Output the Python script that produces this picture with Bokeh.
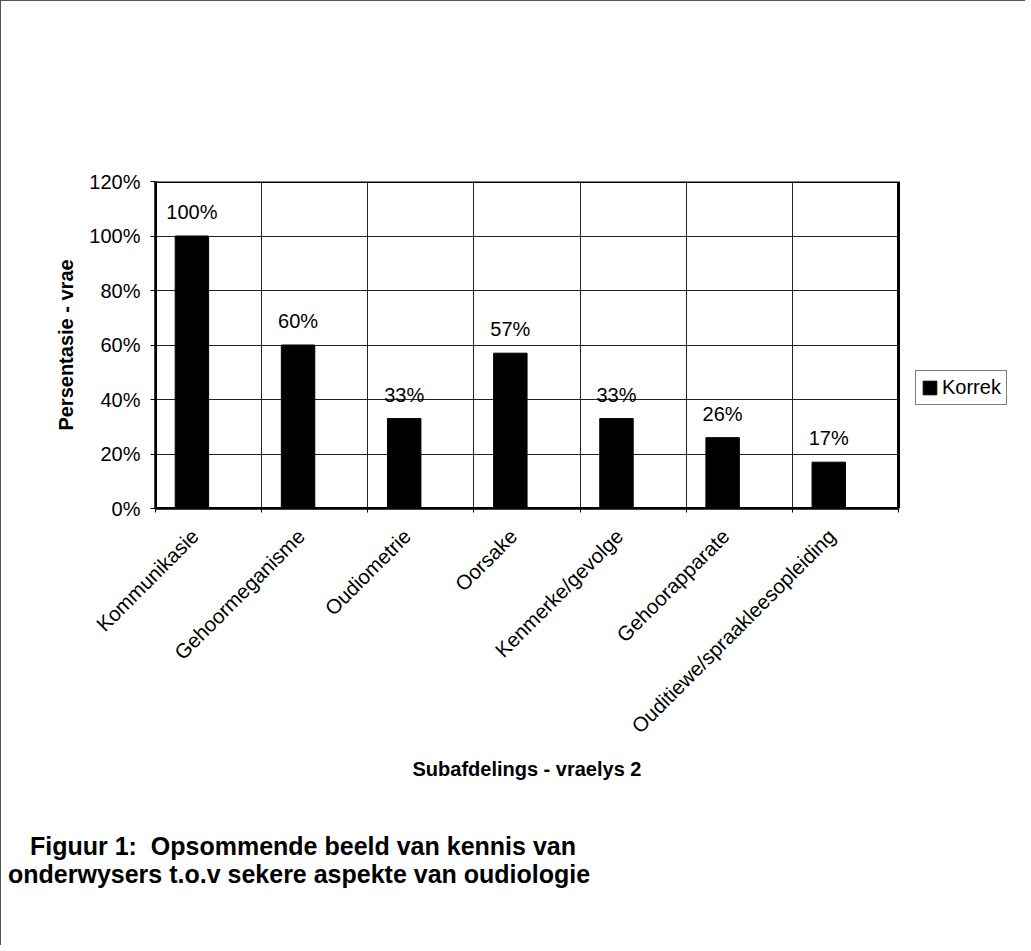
import math
from bokeh.plotting import figure
from bokeh.layouts import column
from bokeh.models import (Range1d, FixedTicker, NumeralTickFormatter, ColumnDataSource,
                          LabelSet, Legend, LegendItem, CustomJSTickFormatter, Div, Title)
from bokeh.core.properties import value
from bokeh.embed import file_html
from bokeh.resources import INLINE

# ---------------- data ----------------
categories = ["Kommunikasie", "Gehoormeganisme", "Oudiometrie", "Oorsake",
              "Kenmerke/gevolge", "Gehoorapparate", "Ouditiewe/spraakleesopleiding"]
korrek = [1.00, 0.60, 0.33, 0.57, 0.33, 0.26, 0.17]
korrek_labels = ["100%", "60%", "33%", "57%", "33%", "26%", "17%"]
y_ticks = [0.0, 0.2, 0.4, 0.6, 0.8, 1.0, 1.2]
series_name = "Korrek"
x_title = "Subafdelings - vraelys 2"
y_title = "Persentasie - vrae"
caption_1 = "Figuur 1:&nbsp; Opsommende beeld van kennis van"
caption_2 = "onderwysers t.o.v sekere aspekte van oudiologie"

# ---------------- layout ----------------
FONT = "Liberation Sans"
n = len(categories)
Y_MAX = 1.2
W, H = 1014, 800
BORDER_L, BORDER_R = 154, 4
CHART_W = 743                       # pixel width of the 7 category slots
FRAME_W = W - BORDER_L - BORDER_R   # frame also hosts the legend on the right
X_MAX = n * FRAME_W / CHART_W
X_TITLE_W = 229                     # approx. rendered width of the x title

centers = [i + 0.5 for i in range(n)]
bar_x = [c - 0.157 for c in centers]      # first of two series slots (second empty)
label_ticks = [c - 0.13 for c in centers]  # where rotated category labels anchor

src = ColumnDataSource(dict(x=bar_x, top=korrek, label=korrek_labels))

p = figure(width=W, height=H, x_range=Range1d(0, X_MAX), y_range=Range1d(0, Y_MAX),
           output_backend="svg", toolbar_location=None,
           min_border_left=BORDER_L, min_border_right=BORDER_R,
           min_border_top=180, min_border_bottom=293)
p.outline_line_color = None
p.background_fill_color = "white"
p.border_fill_color = "white"

# grid (limited to the chart box)
p.xgrid.ticker = FixedTicker(ticks=list(range(1, n)))
p.xgrid.grid_line_color = "#222222"
p.xgrid.grid_line_width = 1
p.ygrid.grid_line_color = "#222222"
p.ygrid.grid_line_width = 1
p.ygrid.cross_bounds = (0, n)

bars = p.vbar(x="x", top="top", width=0.315, source=src,
              fill_color="black", line_color="black")

# chart box outline
p.quad(left=[0], right=[n], bottom=[0], top=[Y_MAX], fill_color=None,
       line_color="black", line_width=3)

# y axis
p.yaxis.ticker = FixedTicker(ticks=y_ticks)
p.yaxis.formatter = NumeralTickFormatter(format="0%")
p.yaxis.major_tick_in = 0
p.yaxis.major_tick_out = 5
p.yaxis.minor_tick_out = 0
p.yaxis.minor_tick_in = 0
p.yaxis.major_label_standoff = 10
p.yaxis.major_label_text_font = FONT
p.yaxis.major_label_text_font_size = "20px"
p.yaxis.major_label_text_color = "black"
p.yaxis.axis_line_width = 2.5
p.yaxis.axis_label = y_title
p.yaxis.axis_label_text_font = FONT
p.yaxis.axis_label_text_font_style = "bold"
p.yaxis.axis_label_text_font_size = "20px"
p.yaxis.axis_label_text_color = "black"
p.yaxis.axis_label_standoff = 9

# x axis
p.xaxis.bounds = (0, n)
p.xaxis.ticker = FixedTicker(ticks=label_ticks, minor_ticks=list(range(n + 1)))
p.xaxis.formatter = CustomJSTickFormatter(args=dict(cats=categories),
                                          code="return cats[Math.floor(tick)] || '';")
p.xaxis.major_tick_in = 0
p.xaxis.major_tick_out = 0
p.xaxis.minor_tick_in = 0
p.xaxis.minor_tick_out = 4
p.xaxis.major_label_orientation = math.pi / 4
p.xaxis.major_label_standoff = 20
p.xaxis.major_label_text_font = FONT
p.xaxis.major_label_text_font_size = "20.5px"
p.xaxis.major_label_text_color = "black"
p.xaxis.axis_line_width = 2.5

# x-axis title, centred under the chart box (not under the legend)
x_label = Title(text=x_title, align="left",
                offset=(CHART_W - X_TITLE_W) / 2,
                text_font=FONT, text_font_style="bold", text_font_size="20px",
                text_color="black", standoff=14)
p.add_layout(x_label, "below")

# data labels
labels = LabelSet(x="x", y="top", text="label", source=src, text_align="center",
                  text_baseline="alphabetic", y_offset=17,
                  text_font=value(FONT), text_font_size=value("20px"), text_color="black")
p.add_layout(labels)

# legend (to the right of the chart box)
legend = Legend(items=[LegendItem(label=series_name, renderers=[bars])],
                location=(CHART_W + 17, 103), orientation="vertical",
                border_line_color="black", border_line_width=1,
                background_fill_color="white", background_fill_alpha=1,
                label_text_font=FONT, label_text_font_size="20px",
                label_text_color="black",
                glyph_width=17, glyph_height=17, label_standoff=4,
                padding=5, margin=0, spacing=0)
p.add_layout(legend)

# caption (below chart)
caption_html = (
    f'<div style="font-family:\'{FONT}\';font-weight:bold;font-size:25px;'
    f'line-height:28px;color:black;padding-top:26px;">'
    f'<div style="padding-left:24px;white-space:nowrap;">{caption_1}</div>'
    f'<div style="padding-left:2px;white-space:nowrap;">{caption_2}</div>'
    f'</div>'
)
cap = Div(text=caption_html, width=W, height=134)

layout = column(p, cap, spacing=0,
                styles={"border-top": "1px solid #555555",
                        "border-left": "1px solid #555555"})

open("out.html", "w").write(file_html(layout, INLINE))
